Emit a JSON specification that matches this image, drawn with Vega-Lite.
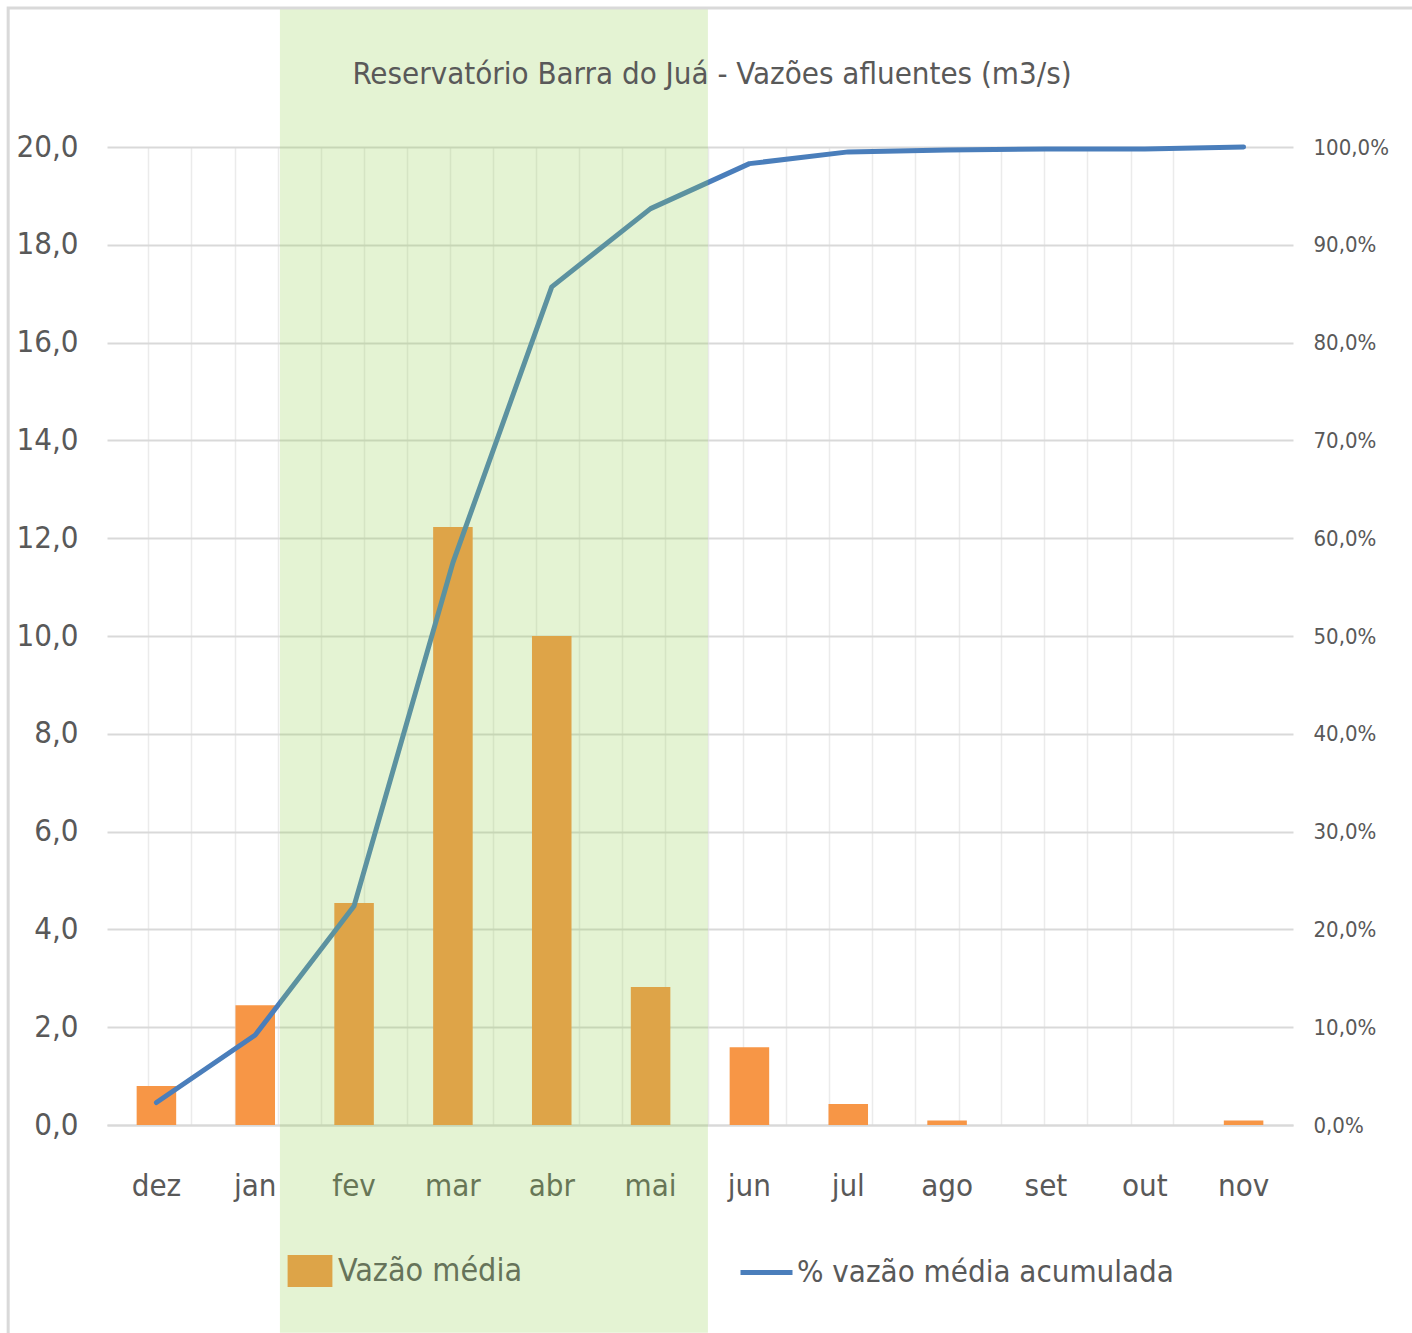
{
  "$schema": "https://vega.github.io/schema/vega-lite/v6.json",
  "width": 1186,
  "height": 978,
  "autosize": "none",
  "padding": {"left": 107, "top": 147, "right": 119, "bottom": 208},
  "background": "white",
  "title": {
    "text": "Reservatório Barra do Juá - Vazões afluentes (m3/s)",
    "fontSize": 31,
    "fontWeight": "normal",
    "color": "#595959",
    "anchor": "middle",
    "frame": "group",
    "baseline": "bottom",
    "offset": -115,
    "dx": 12
  },
  "data": {
    "values": [
      {"mes": "dez", "vazao": 0.80, "acum": 0.023},
      {"mes": "jan", "vazao": 2.45, "acum": 0.092},
      {"mes": "fev", "vazao": 4.54, "acum": 0.224},
      {"mes": "mar", "vazao": 12.23, "acum": 0.575},
      {"mes": "abr", "vazao": 10.0, "acum": 0.857},
      {"mes": "mai", "vazao": 2.82, "acum": 0.937},
      {"mes": "jun", "vazao": 1.59, "acum": 0.983},
      {"mes": "jul", "vazao": 0.43, "acum": 0.995},
      {"mes": "ago", "vazao": 0.09, "acum": 0.997},
      {"mes": "set", "vazao": 0.0, "acum": 0.998},
      {"mes": "out", "vazao": 0.0, "acum": 0.998},
      {"mes": "nov", "vazao": 0.09, "acum": 1.0}
    ]
  },
  "layer": [
    {
      "layer": [
        {
          "mark": {"type": "bar"},
          "encoding": {
            "x": {
              "field": "mes",
              "type": "nominal",
              "sort": null,
              "scale": {"paddingInner": 0.6, "paddingOuter": 0.3},
              "axis": {
                "title": null,
                "labelAngle": 0,
                "labelFontSize": 31,
                "labelPadding": 46,
                "labelColor": "#595959",
                "ticks": false,
                "domain": true,
                "domainColor": "#D9D9D9",
                "domainWidth": 2,
                "grid": false
              }
            },
            "y": {
              "field": "vazao",
              "type": "quantitative",
              "scale": {"domain": [0, 20], "nice": false},
              "axis": {
                "title": null,
                "values": [0, 2, 4, 6, 8, 10, 12, 14, 16, 18, 20],
                "format": ".1f",
                "labelFontSize": 31,
                "labelPadding": 29,
                "labelColor": "#595959",
                "ticks": false,
                "domain": false,
                "grid": true,
                "gridColor": "#D9D9D9",
                "gridWidth": 2
              }
            },
            "fill": {
              "condition": {"test": "true", "value": "#F79646"},
              "datum": "Vazão média",
              "scale": {"range": ["#DDA448"]},
              "legend": {
                "orient": "none",
                "legendX": 187,
                "legendY": 1108,
                "title": null,
                "symbolType": "M-1.4,-1H1.4V1H-1.4Z",
                "symbolSize": 1024,
                "symbolStrokeWidth": 0,
                "labelFontSize": 32,
                "labelLimit": 0,
                "labelColor": "#66735A",
                "labelOffset": 12
              }
            }
          }
        },
        {
          "mark": {"type": "line", "strokeWidth": 5, "strokeCap": "round", "strokeJoin": "round"},
          "encoding": {
            "x": {"field": "mes", "type": "nominal", "sort": null},
            "y": {
              "field": "acum",
              "type": "quantitative",
              "scale": {"domain": [0, 1], "nice": false},
              "axis": {
                "orient": "right",
                "title": null,
                "values": [0, 0.1, 0.2, 0.3, 0.4, 0.5, 0.6, 0.7, 0.8, 0.9, 1.0],
                "format": ".1%",
                "labelFontSize": 22,
                "labelPadding": 20,
                "labelColor": "#595959",
                "ticks": false,
                "domain": false,
                "grid": false
              }
            },
            "stroke": {
              "datum": "% vazão média acumulada",
              "scale": {"range": ["#4A7EBB"]},
              "legend": {
                "orient": "none",
                "legendX": 631,
                "legendY": 1097,
                "title": null,
                "symbolType": "stroke",
                "symbolSize": 2704,
                "symbolStrokeWidth": 5,
                "labelFontSize": 31,
                "labelLimit": 0,
                "labelColor": "#595959",
                "labelOffset": 2
              }
            }
          }
        }
      ],
      "resolve": {"scale": {"y": "independent"}}
    },
    {
      "data": {"values": [{}]},
      "layer": [
        {
          "mark": {"type": "rect", "color": "#92D050", "opacity": 0.25, "clip": false},
          "encoding": {
            "x": {
              "datum": 1.75,
              "type": "quantitative",
              "scale": {"domain": [0, 12], "nice": false, "zero": false},
              "axis": {
                "orient": "top",
                "title": null,
                "labels": false,
                "ticks": false,
                "domain": false,
                "grid": true,
                "gridColor": "#EBEBEB",
                "gridWidth": 1.5,
                "values": [0.415, 0.85, 1.295, 1.73, 2.165, 2.6, 3.035, 3.47, 3.905, 4.34, 4.775, 5.21, 5.645, 6.08, 6.435, 6.87, 7.305, 7.74, 8.175, 8.62, 9.045, 9.48, 9.915, 10.36, 10.785]
              }
            },
            "x2": {"datum": 6.08},
            "y": {
              "datum": 22.84,
              "type": "quantitative",
              "scale": {"domain": [0, 20], "nice": false},
              "axis": null
            },
            "y2": {"datum": -4.25}
          }
        },
        {
          "mark": {"type": "rect", "fill": null, "stroke": "#D9D9D9", "strokeWidth": 3, "clip": false},
          "encoding": {
            "x": {"datum": -1.0, "type": "quantitative"},
            "x2": {"datum": 13.5},
            "y": {"datum": 22.84, "type": "quantitative"},
            "y2": {"datum": -5}
          }
        }
      ]
    }
  ],
  "resolve": {"scale": {"x": "independent", "y": "independent"}},
  "config": {
    "font": "DejaVu Sans Condensed, DejaVu Sans, sans-serif",
    "view": {"stroke": null},
    "locale": {
      "number": {"decimal": ",", "thousands": ".", "grouping": [3], "currency": ["R$", ""]}
    }
  }
}
